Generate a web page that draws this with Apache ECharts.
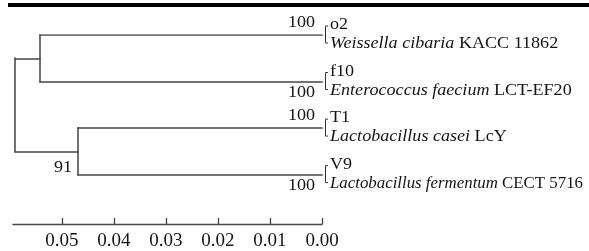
<!DOCTYPE html>
<html>
<head>
<meta charset="utf-8">
<script src="https://cdn.jsdelivr.net/npm/echarts@6/dist/echarts.min.js"></script>
<style>
  html, body { margin: 0; padding: 0; background: #fff; }
  #chart { width: 589px; height: 251px; }
</style>
</head>
<body>
<div id="chart"></div>
<script>
// tip pairs, top to bottom: isolate + closest reference strain
const isolates = ['o2', 'f10', 'T1', 'V9'];
const species = ['Weissella cibaria', 'Enterococcus faecium', 'Lactobacillus casei', 'Lactobacillus fermentum'];
const strains = ['KACC 11862', 'LCT-EF20', 'LcY', 'CECT 5716'];
const pairDepth = [0, 0, 0, 0];
const pairSupport = [100, 100, 100, 100];

// inner clades (which rows they join), their depth and bootstrap
const cladeRows = [[0, 1], [2, 3]];
const cladeDepth = [0.0542, 0.0469];
const cladeSupport = [null, 91];
const rootDepth = 0.0590;

// scale bar
const scaleTicks = [0.05, 0.04, 0.03, 0.02, 0.01, 0.00];
const scaleMax = 0.0594;

const FONT = 'Liberation Serif';
const FS = 16;
const LINE = '#444';
const INK = '#151515';
const STRETCH = 1.13; // the figure's text is drawn a bit wide
const LABEL_ROOM = 253; // px left for a leaf name before the right edge

// squeeze a long name so it still fits, like the figure does
const measure = document.createElement('canvas').getContext('2d');
function textWidth(italic, plain) {
  measure.font = 'italic ' + FS + 'px ' + FONT;
  const a = measure.measureText(italic + ' ').width;
  measure.font = FS + 'px ' + FONT;
  return a + measure.measureText(plain).width;
}

// --- build the branch segments from the tree arrays ---
const cladeMid = cladeRows.map(r => (r[0] + r[r.length - 1]) / 2);
const segs = [];
cladeRows.forEach((rows, c) => {
  rows.forEach(r => segs.push([[cladeDepth[c], r], [pairDepth[r], r]]));
  segs.push([[cladeDepth[c], rows[0]], [cladeDepth[c], rows[rows.length - 1]]]);
  segs.push([[rootDepth, cladeMid[c]], [cladeDepth[c], cladeMid[c]]]);
});
segs.push([[rootDepth, cladeMid[0]], [rootDepth, cladeMid[cladeMid.length - 1]]]);

// bootstrap values: pair supports sit outside their clade, clade support under the node
const pairLabels = [];
cladeRows.forEach(rows => {
  rows.forEach((r, k) => pairLabels.push([pairDepth[r], r, pairSupport[r], k === 0 ? -1 : 1]));
});
const cladeLabels = [];
cladeSupport.forEach((s, c) => {
  if (s != null) cladeLabels.push([cladeDepth[c], cladeMid[c], s]);
});

const chart = echarts.init(document.getElementById('chart'));

chart.setOption({
  animation: false,
  backgroundColor: '#fff',
  graphic: [{
    type: 'rect',
    shape: { x: 8, y: 3, width: 581, height: 4 },
    style: { fill: '#000' }
  }],
  grid: { left: 13, right: 267, top: 35, bottom: 24 },
  xAxis: {
    type: 'value',
    inverse: true,
    min: 0,
    max: scaleMax,
    splitLine: { show: false },
    axisLine: { onZero: false, lineStyle: { color: LINE, width: 1.4 } },
    axisTick: { inside: true, length: 6, customValues: scaleTicks, lineStyle: { color: LINE, width: 1.3 } },
    axisLabel: {
      customValues: scaleTicks,
      formatter: v => v.toFixed(2),
      fontFamily: FONT,
      fontSize: 19,
      color: INK,
      margin: 8
    }
  },
  yAxis: { type: 'value', inverse: true, min: 0, max: 4.06, show: false },
  series: [
    {
      type: 'lines',
      coordinateSystem: 'cartesian2d',
      silent: true,
      lineStyle: { color: LINE, width: 1.5, opacity: 1, cap: 'square' },
      data: segs.map(s => ({ coords: s }))
    },
    {
      // leaf labels with the bracket joining each pair
      type: 'custom',
      coordinateSystem: 'cartesian2d',
      silent: true,
      clip: false,
      data: isolates.map((n, i) => [pairDepth[i], i]),
      renderItem: (params, api) => {
        const i = params.dataIndex;
        const p = api.coord([api.value(0), api.value(1)]);
        const x = p[0], y = p[1];
        const sx = Math.min(STRETCH, LABEL_ROOM / textWidth(species[i], strains[i]));
        return {
          type: 'group',
          children: [
            {
              type: 'polyline',
              shape: { points: [[x + 6, y - 9], [x + 3.5, y - 9], [x + 3.5, y + 8], [x + 6, y + 8]] },
              style: { stroke: '#333', lineWidth: 1, fill: null }
            },
            {
              type: 'text', x: x + 8, y: y - 10, scaleX: STRETCH,
              style: { text: isolates[i], fontFamily: FONT, fontSize: FS, fill: INK, verticalAlign: 'middle' }
            },
            {
              type: 'text', x: x + 8, y: y + 9, scaleX: sx,
              style: {
                text: '{i|' + species[i] + '} ' + strains[i],
                fontFamily: FONT, fontSize: FS, fill: INK, verticalAlign: 'middle',
                rich: { i: { fontStyle: 'italic', fontFamily: FONT, fontSize: FS, fill: INK } }
              }
            }
          ]
        };
      }
    },
    {
      type: 'custom',
      coordinateSystem: 'cartesian2d',
      silent: true,
      clip: false,
      data: pairLabels,
      renderItem: (params, api) => {
        const p = api.coord([api.value(0), api.value(1)]);
        const side = api.value(3);
        return {
          type: 'text', x: p[0] - 7, y: p[1] + (side < 0 ? -12 : 11), scaleX: STRETCH,
          style: { text: String(api.value(2)), fontFamily: FONT, fontSize: FS, fill: INK, align: 'right', verticalAlign: 'middle' }
        };
      }
    },
    {
      type: 'custom',
      coordinateSystem: 'cartesian2d',
      silent: true,
      clip: false,
      data: cladeLabels,
      renderItem: (params, api) => {
        const p = api.coord([api.value(0), api.value(1)]);
        return {
          type: 'text', x: p[0] - 6, y: p[1] + 16, scaleX: STRETCH,
          style: { text: String(api.value(2)), fontFamily: FONT, fontSize: FS, fill: INK, align: 'right', verticalAlign: 'middle' }
        };
      }
    }
  ]
});
</script>
</body>
</html>
